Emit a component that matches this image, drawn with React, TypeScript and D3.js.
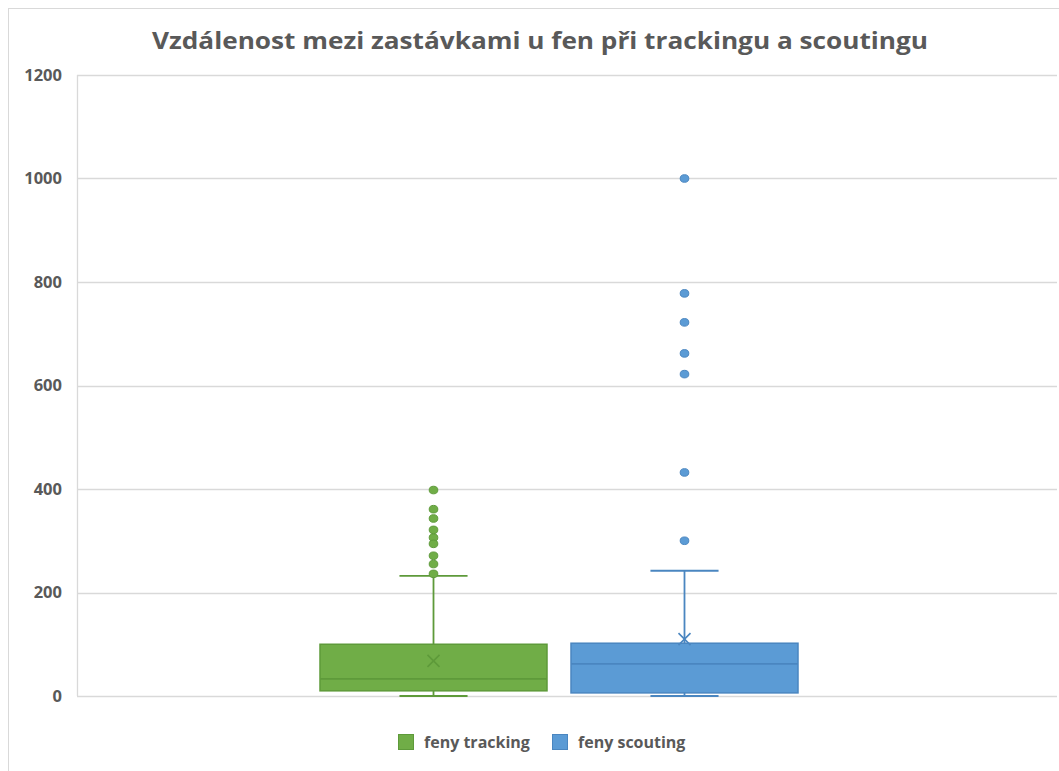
import React from 'react';
import * as d3 from 'd3';

// values (Excel box & whisker)
const seriesNames = ['feny tracking', 'feny scouting'];
const fillColors = ['#70ad47', '#5b9bd5'];
const strokeColors = ['#5e9a3a', '#4a86c0'];
const q1 = [10, 6];
const median = [33, 62];
const q3 = [100, 102];
const mean = [68, 110];
const whiskerLow = [0, 0];
const whiskerHigh = [232, 242];
const outliersTracking = [398, 361, 343, 321, 306, 294, 271, 255, 236];
const outliersScouting = [1000, 778, 722, 662, 622, 432, 300];
const outliers = [outliersTracking, outliersScouting];
const yTicks = [0, 200, 400, 600, 800, 1000, 1200];

const W = 1059;
const H = 771;
const plotLeft = 77;
const plotRight = 1057;
const plotTop = 75;
const plotBottom = 696;
const font = "'Open Sans', 'DejaVu Sans', sans-serif";
const textColor = '#595959';

export default function App() {
  const y = d3.scaleLinear().domain([0, 1200]).range([plotBottom, plotTop]);
  const x = d3.scaleBand().domain(seriesNames).range([320, 798]).paddingInner(0.0956).paddingOuter(0);
  const bw = x.bandwidth();
  const capW = bw * 0.3;

  return (
    <div style={{ position: 'absolute', left: 0, top: 0 }}>
      <svg width={W} height={H} style={{ display: 'block', background: '#fff' }}>
        <rect x={8.5} y={8.5} width={W + 10} height={H + 10} fill="#fff" stroke="#d9d9d9" />
        <text x={540} y={49} textAnchor="middle" fontFamily={font} fontWeight="bold" fontSize={23}
          fill={textColor} textLength={776} lengthAdjust="spacingAndGlyphs">
          Vzdálenost mezi zastávkami u fen při trackingu a scoutingu
        </text>

        {yTicks.map(t => (
          <g key={t}>
            <line x1={plotLeft} x2={plotRight} y1={Math.round(y(t)) + 0.5} y2={Math.round(y(t)) + 0.5}
              stroke="#d9d9d9" strokeWidth={1.3} />
            <text x={62} y={y(t)} dy="0.36em" textAnchor="end" fontFamily={font} fontWeight="bold"
              fontSize={16.5} fill={textColor}>{t}</text>
          </g>
        ))}
        <line x1={plotLeft + 0.5} x2={plotLeft + 0.5} y1={plotTop} y2={plotBottom} stroke="#d9d9d9" strokeWidth={1.3} />

        {seriesNames.map((name, i) => {
          const x0 = x(name) as number;
          const cx = x0 + bw / 2;
          const fill = fillColors[i];
          const st = strokeColors[i];
          return (
            <g key={name}>
              {/* whiskers */}
              <line x1={cx} x2={cx} y1={y(q3[i])} y2={y(whiskerHigh[i])} stroke={st} strokeWidth={1.8} />
              <line x1={cx} x2={cx} y1={y(q1[i])} y2={y(whiskerLow[i])} stroke={st} strokeWidth={1.8} />
              <line x1={cx - capW / 2} x2={cx + capW / 2} y1={y(whiskerHigh[i])} y2={y(whiskerHigh[i])} stroke={st} strokeWidth={1.8} />
              <line x1={cx - capW / 2} x2={cx + capW / 2} y1={y(whiskerLow[i])} y2={y(whiskerLow[i])} stroke={st} strokeWidth={1.8} />
              {/* box */}
              <rect x={x0} y={y(q3[i])} width={bw} height={y(q1[i]) - y(q3[i])} fill={fill} stroke={st} strokeWidth={1.5} />
              <line x1={x0} x2={x0 + bw} y1={y(median[i])} y2={y(median[i])} stroke={st} strokeWidth={1.8} />
              {/* mean marker */}
              <path d={`M${cx - 6},${y(mean[i]) - 6}L${cx + 6},${y(mean[i]) + 6}M${cx + 6},${y(mean[i]) - 6}L${cx - 6},${y(mean[i]) + 6}`}
                stroke={st} strokeWidth={1.6} fill="none" />
              {/* outliers */}
              {outliers[i].map((v, j) => (
                <ellipse key={j} cx={cx} cy={y(v)} rx={4.3} ry={3.8} fill={fill} stroke={st} strokeWidth={1} />
              ))}
            </g>
          );
        })}

        {/* legend */}
        {seriesNames.map((name, i) => {
          const lx = i === 0 ? 398 : 552;
          return (
            <g key={name} transform={`translate(${lx},734)`}>
              <rect x={0.5} y={0.5} width={15} height={15} fill={fillColors[i]} stroke={strokeColors[i]} />
              <text x={26} y={8} dy="0.36em" fontFamily={font} fontWeight="bold" fontSize={16} fill={textColor}>{name}</text>
            </g>
          );
        })}
      </svg>
    </div>
  );
}
